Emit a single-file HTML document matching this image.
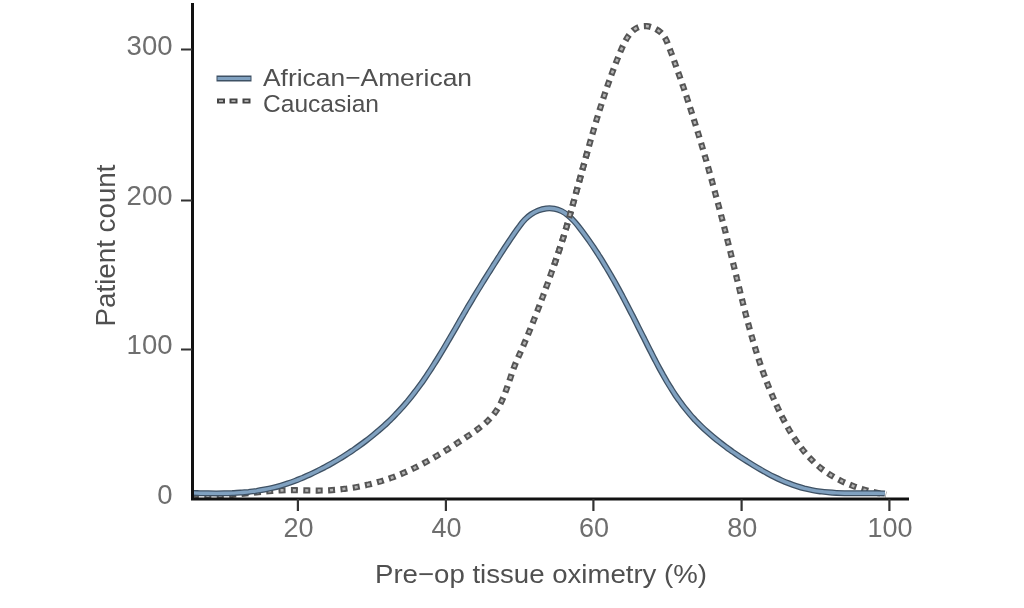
<!DOCTYPE html>
<html><head><meta charset="utf-8"><title>Chart</title>
<style>html,body{margin:0;padding:0;background:#fff;width:1024px;height:608px;overflow:hidden}svg{display:block;will-change:transform}</style>
</head><body>
<svg width="1024" height="608" viewBox="0 0 1024 608">
<rect width="1024" height="608" fill="#ffffff"/>
<defs><clipPath id="cx"><rect x="540" y="150" width="80" height="120"/></clipPath></defs>
<path d="M192.0,494.5 C193.3,494.6 197.4,495.1 200.1,495.3 C202.8,495.5 205.5,495.7 208.1,495.7 C210.8,495.8 213.5,495.8 216.2,495.7 C218.9,495.7 221.6,495.5 224.3,495.4 C226.9,495.2 229.6,495.0 232.3,494.8 C235.0,494.6 237.7,494.3 240.3,494.1 C243.0,493.8 245.7,493.5 248.4,493.2 C251.1,493.0 253.7,492.7 256.4,492.4 C259.1,492.1 261.8,491.8 264.4,491.6 C267.1,491.3 269.8,491.1 272.5,490.9 C275.2,490.7 277.8,490.5 280.5,490.4 C283.2,490.3 285.9,490.2 288.5,490.2 C291.2,490.2 293.9,490.2 296.6,490.2 C299.3,490.3 301.9,490.3 304.6,490.4 C307.3,490.4 310.0,490.5 312.7,490.5 C315.3,490.5 318.0,490.6 320.7,490.5 C323.4,490.5 326.1,490.4 328.8,490.3 C331.4,490.1 334.1,489.9 336.8,489.7 C339.5,489.5 342.1,489.2 344.8,488.8 C347.5,488.5 350.1,488.1 352.8,487.7 C355.4,487.3 358.1,486.8 360.7,486.3 C363.3,485.7 366.0,485.2 368.6,484.6 C371.2,483.9 373.8,483.3 376.4,482.5 C379.0,481.8 381.5,481.1 384.1,480.2 C386.6,479.4 389.2,478.6 391.7,477.7 C394.2,476.8 396.7,475.8 399.2,474.8 C401.7,473.8 404.1,472.8 406.6,471.7 C409.0,470.6 411.4,469.4 413.8,468.3 C416.2,467.1 418.6,465.9 421.0,464.7 C423.4,463.4 425.7,462.2 428.1,460.9 C430.4,459.6 432.8,458.2 435.1,456.9 C437.4,455.5 439.7,454.2 442.0,452.8 C444.3,451.4 446.6,449.9 448.9,448.5 C451.1,447.1 453.4,445.6 455.7,444.1 C457.9,442.7 460.2,441.2 462.4,439.7 C464.7,438.2 466.9,436.7 469.1,435.2 C471.4,433.7 473.6,432.1 475.8,430.6 C477.9,429.0 480.1,427.4 482.1,425.7 C484.2,424.1 486.2,422.4 488.0,420.6 C489.9,418.7 491.7,416.8 493.3,414.8 C494.9,412.8 496.4,410.7 497.8,408.5 C499.2,406.2 500.4,403.9 501.5,401.5 C502.7,399.1 503.7,396.6 504.7,394.0 C505.7,391.5 506.6,388.9 507.5,386.3 C508.4,383.7 509.3,381.0 510.2,378.4 C511.1,375.8 511.9,373.2 512.8,370.6 C513.8,368.0 514.7,365.5 515.7,363.0 C516.8,360.5 517.9,358.1 518.9,355.7 C520.0,353.2 521.1,350.8 522.2,348.4 C523.2,345.9 524.3,343.5 525.3,341.0 C526.4,338.6 527.4,336.1 528.4,333.6 C529.4,331.2 530.4,328.7 531.4,326.2 C532.4,323.7 533.4,321.2 534.4,318.7 C535.4,316.2 536.3,313.7 537.3,311.2 C538.3,308.7 539.2,306.2 540.2,303.7 C541.1,301.2 542.0,298.6 543.0,296.1 C543.9,293.6 544.8,291.1 545.7,288.5 C546.7,286.0 547.6,283.5 548.5,280.9 C549.4,278.4 550.3,275.9 551.2,273.3 C552.1,270.8 553.0,268.2 553.9,265.7 C554.8,263.2 555.7,260.6 556.5,258.1 C557.4,255.6 558.2,253.0 559.1,250.5 C559.9,247.9 560.7,245.4 561.6,242.9 C562.4,240.3 563.2,237.8 564.0,235.3 C564.7,232.7 565.5,230.2 566.3,227.7 C567.0,225.2 567.7,222.6 568.5,220.1 C569.2,217.6 569.9,215.0 570.6,212.5 C571.4,209.9 572.1,207.4 572.8,204.8 C573.5,202.3 574.2,199.7 574.9,197.1 C575.6,194.6 576.3,192.0 577.0,189.4 C577.7,186.8 578.4,184.2 579.2,181.6 C579.9,179.0 580.6,176.4 581.3,173.8 C582.0,171.1 582.7,168.5 583.5,165.9 C584.2,163.3 584.9,160.7 585.6,158.1 C586.4,155.4 587.1,152.8 587.8,150.2 C588.6,147.6 589.3,145.0 590.0,142.4 C590.8,139.8 591.5,137.3 592.2,134.7 C593.0,132.1 593.7,129.6 594.5,127.0 C595.2,124.5 596.0,121.9 596.7,119.4 C597.5,116.9 598.3,114.4 599.0,111.9 C599.8,109.4 600.6,106.9 601.4,104.4 C602.1,101.9 602.9,99.4 603.8,96.9 C604.6,94.4 605.4,91.9 606.3,89.4 C607.1,86.9 608.0,84.4 608.9,81.9 C609.8,79.4 610.7,76.8 611.6,74.3 C612.6,71.7 613.5,69.2 614.5,66.6 C615.5,64.0 616.5,61.4 617.6,58.7 C618.6,56.1 619.7,53.4 620.8,50.7 C621.9,48.1 623.1,45.3 624.4,42.9 C625.7,40.4 627.0,37.9 628.5,35.8 C630.0,33.7 631.6,31.7 633.4,30.2 C635.3,28.7 637.2,27.5 639.4,26.8 C641.6,26.1 644.2,25.9 646.6,26.1 C649.1,26.3 651.8,27.1 654.2,28.2 C656.6,29.2 659.0,30.8 660.9,32.6 C662.8,34.4 664.3,36.7 665.7,39.1 C667.0,41.4 667.8,44.1 668.9,46.7 C669.9,49.3 670.8,51.9 671.8,54.4 C672.7,57.0 673.7,59.6 674.6,62.1 C675.5,64.7 676.4,67.2 677.3,69.8 C678.2,72.3 679.1,74.9 680.0,77.4 C680.9,80.0 681.8,82.5 682.6,85.0 C683.5,87.6 684.4,90.1 685.2,92.7 C686.1,95.2 686.9,97.7 687.7,100.3 C688.6,102.8 689.4,105.3 690.2,107.9 C691.0,110.4 691.8,112.9 692.6,115.5 C693.4,118.0 694.2,120.6 695.0,123.1 C695.8,125.7 696.6,128.2 697.4,130.8 C698.2,133.4 698.9,135.9 699.7,138.5 C700.5,141.1 701.3,143.6 702.0,146.2 C702.8,148.8 703.5,151.3 704.3,153.9 C705.0,156.5 705.8,159.1 706.5,161.6 C707.2,164.2 708.0,166.8 708.7,169.4 C709.4,172.0 710.2,174.6 710.9,177.2 C711.6,179.7 712.3,182.3 713.0,184.9 C713.7,187.5 714.4,190.1 715.1,192.7 C715.8,195.3 716.5,197.9 717.2,200.5 C717.9,203.1 718.6,205.7 719.3,208.3 C720.0,210.9 720.7,213.5 721.3,216.1 C722.0,218.7 722.7,221.3 723.4,223.9 C724.0,226.6 724.7,229.2 725.4,231.8 C726.0,234.4 726.7,237.0 727.3,239.6 C728.0,242.2 728.6,244.8 729.3,247.4 C729.9,250.0 730.6,252.6 731.2,255.2 C731.9,257.9 732.5,260.5 733.1,263.1 C733.8,265.7 734.4,268.3 735.0,270.9 C735.7,273.5 736.3,276.1 736.9,278.7 C737.6,281.3 738.2,283.9 738.8,286.5 C739.5,289.1 740.1,291.7 740.7,294.3 C741.4,296.9 742.0,299.5 742.7,302.1 C743.3,304.7 744.0,307.3 744.6,309.9 C745.3,312.5 745.9,315.1 746.6,317.7 C747.3,320.3 748.0,322.9 748.7,325.4 C749.4,328.0 750.1,330.6 750.8,333.2 C751.5,335.7 752.3,338.3 753.0,340.9 C753.8,343.4 754.5,346.0 755.3,348.5 C756.1,351.1 756.9,353.6 757.7,356.2 C758.5,358.7 759.4,361.3 760.2,363.8 C761.1,366.4 762.0,368.9 762.8,371.4 C763.7,373.9 764.7,376.4 765.6,379.0 C766.5,381.5 767.5,384.0 768.5,386.5 C769.5,389.0 770.5,391.5 771.6,394.0 C772.6,396.4 773.7,398.9 774.8,401.4 C775.9,403.9 777.0,406.3 778.2,408.8 C779.3,411.2 780.5,413.7 781.7,416.1 C783.0,418.6 784.2,421.0 785.5,423.4 C786.8,425.8 788.2,428.1 789.5,430.5 C790.9,432.8 792.3,435.1 793.8,437.4 C795.3,439.7 796.8,441.9 798.4,444.1 C799.9,446.2 801.6,448.4 803.2,450.4 C804.9,452.5 806.6,454.5 808.4,456.5 C810.2,458.4 812.1,460.3 814.0,462.2 C815.9,464.0 817.8,465.7 819.9,467.4 C821.9,469.1 824.0,470.6 826.2,472.1 C828.4,473.7 830.6,475.1 832.9,476.4 C835.2,477.8 837.5,479.0 839.9,480.2 C842.3,481.4 844.7,482.6 847.2,483.6 C849.7,484.7 852.2,485.7 854.7,486.6 C857.3,487.5 859.9,488.3 862.4,489.1 C865.0,489.9 867.6,490.6 870.3,491.3 C872.9,492.0 875.5,492.6 878.2,493.1 C880.8,493.7 884.8,494.4 886.1,494.6" fill="none" stroke="#555555" stroke-width="6.2" stroke-dasharray="7 5.4"/><path d="M192.0,494.5 C193.3,494.6 197.4,495.1 200.1,495.3 C202.8,495.5 205.5,495.7 208.1,495.7 C210.8,495.8 213.5,495.8 216.2,495.7 C218.9,495.7 221.6,495.5 224.3,495.4 C226.9,495.2 229.6,495.0 232.3,494.8 C235.0,494.6 237.7,494.3 240.3,494.1 C243.0,493.8 245.7,493.5 248.4,493.2 C251.1,493.0 253.7,492.7 256.4,492.4 C259.1,492.1 261.8,491.8 264.4,491.6 C267.1,491.3 269.8,491.1 272.5,490.9 C275.2,490.7 277.8,490.5 280.5,490.4 C283.2,490.3 285.9,490.2 288.5,490.2 C291.2,490.2 293.9,490.2 296.6,490.2 C299.3,490.3 301.9,490.3 304.6,490.4 C307.3,490.4 310.0,490.5 312.7,490.5 C315.3,490.5 318.0,490.6 320.7,490.5 C323.4,490.5 326.1,490.4 328.8,490.3 C331.4,490.1 334.1,489.9 336.8,489.7 C339.5,489.5 342.1,489.2 344.8,488.8 C347.5,488.5 350.1,488.1 352.8,487.7 C355.4,487.3 358.1,486.8 360.7,486.3 C363.3,485.7 366.0,485.2 368.6,484.6 C371.2,483.9 373.8,483.3 376.4,482.5 C379.0,481.8 381.5,481.1 384.1,480.2 C386.6,479.4 389.2,478.6 391.7,477.7 C394.2,476.8 396.7,475.8 399.2,474.8 C401.7,473.8 404.1,472.8 406.6,471.7 C409.0,470.6 411.4,469.4 413.8,468.3 C416.2,467.1 418.6,465.9 421.0,464.7 C423.4,463.4 425.7,462.2 428.1,460.9 C430.4,459.6 432.8,458.2 435.1,456.9 C437.4,455.5 439.7,454.2 442.0,452.8 C444.3,451.4 446.6,449.9 448.9,448.5 C451.1,447.1 453.4,445.6 455.7,444.1 C457.9,442.7 460.2,441.2 462.4,439.7 C464.7,438.2 466.9,436.7 469.1,435.2 C471.4,433.7 473.6,432.1 475.8,430.6 C477.9,429.0 480.1,427.4 482.1,425.7 C484.2,424.1 486.2,422.4 488.0,420.6 C489.9,418.7 491.7,416.8 493.3,414.8 C494.9,412.8 496.4,410.7 497.8,408.5 C499.2,406.2 500.4,403.9 501.5,401.5 C502.7,399.1 503.7,396.6 504.7,394.0 C505.7,391.5 506.6,388.9 507.5,386.3 C508.4,383.7 509.3,381.0 510.2,378.4 C511.1,375.8 511.9,373.2 512.8,370.6 C513.8,368.0 514.7,365.5 515.7,363.0 C516.8,360.5 517.9,358.1 518.9,355.7 C520.0,353.2 521.1,350.8 522.2,348.4 C523.2,345.9 524.3,343.5 525.3,341.0 C526.4,338.6 527.4,336.1 528.4,333.6 C529.4,331.2 530.4,328.7 531.4,326.2 C532.4,323.7 533.4,321.2 534.4,318.7 C535.4,316.2 536.3,313.7 537.3,311.2 C538.3,308.7 539.2,306.2 540.2,303.7 C541.1,301.2 542.0,298.6 543.0,296.1 C543.9,293.6 544.8,291.1 545.7,288.5 C546.7,286.0 547.6,283.5 548.5,280.9 C549.4,278.4 550.3,275.9 551.2,273.3 C552.1,270.8 553.0,268.2 553.9,265.7 C554.8,263.2 555.7,260.6 556.5,258.1 C557.4,255.6 558.2,253.0 559.1,250.5 C559.9,247.9 560.7,245.4 561.6,242.9 C562.4,240.3 563.2,237.8 564.0,235.3 C564.7,232.7 565.5,230.2 566.3,227.7 C567.0,225.2 567.7,222.6 568.5,220.1 C569.2,217.6 569.9,215.0 570.6,212.5 C571.4,209.9 572.1,207.4 572.8,204.8 C573.5,202.3 574.2,199.7 574.9,197.1 C575.6,194.6 576.3,192.0 577.0,189.4 C577.7,186.8 578.4,184.2 579.2,181.6 C579.9,179.0 580.6,176.4 581.3,173.8 C582.0,171.1 582.7,168.5 583.5,165.9 C584.2,163.3 584.9,160.7 585.6,158.1 C586.4,155.4 587.1,152.8 587.8,150.2 C588.6,147.6 589.3,145.0 590.0,142.4 C590.8,139.8 591.5,137.3 592.2,134.7 C593.0,132.1 593.7,129.6 594.5,127.0 C595.2,124.5 596.0,121.9 596.7,119.4 C597.5,116.9 598.3,114.4 599.0,111.9 C599.8,109.4 600.6,106.9 601.4,104.4 C602.1,101.9 602.9,99.4 603.8,96.9 C604.6,94.4 605.4,91.9 606.3,89.4 C607.1,86.9 608.0,84.4 608.9,81.9 C609.8,79.4 610.7,76.8 611.6,74.3 C612.6,71.7 613.5,69.2 614.5,66.6 C615.5,64.0 616.5,61.4 617.6,58.7 C618.6,56.1 619.7,53.4 620.8,50.7 C621.9,48.1 623.1,45.3 624.4,42.9 C625.7,40.4 627.0,37.9 628.5,35.8 C630.0,33.7 631.6,31.7 633.4,30.2 C635.3,28.7 637.2,27.5 639.4,26.8 C641.6,26.1 644.2,25.9 646.6,26.1 C649.1,26.3 651.8,27.1 654.2,28.2 C656.6,29.2 659.0,30.8 660.9,32.6 C662.8,34.4 664.3,36.7 665.7,39.1 C667.0,41.4 667.8,44.1 668.9,46.7 C669.9,49.3 670.8,51.9 671.8,54.4 C672.7,57.0 673.7,59.6 674.6,62.1 C675.5,64.7 676.4,67.2 677.3,69.8 C678.2,72.3 679.1,74.9 680.0,77.4 C680.9,80.0 681.8,82.5 682.6,85.0 C683.5,87.6 684.4,90.1 685.2,92.7 C686.1,95.2 686.9,97.7 687.7,100.3 C688.6,102.8 689.4,105.3 690.2,107.9 C691.0,110.4 691.8,112.9 692.6,115.5 C693.4,118.0 694.2,120.6 695.0,123.1 C695.8,125.7 696.6,128.2 697.4,130.8 C698.2,133.4 698.9,135.9 699.7,138.5 C700.5,141.1 701.3,143.6 702.0,146.2 C702.8,148.8 703.5,151.3 704.3,153.9 C705.0,156.5 705.8,159.1 706.5,161.6 C707.2,164.2 708.0,166.8 708.7,169.4 C709.4,172.0 710.2,174.6 710.9,177.2 C711.6,179.7 712.3,182.3 713.0,184.9 C713.7,187.5 714.4,190.1 715.1,192.7 C715.8,195.3 716.5,197.9 717.2,200.5 C717.9,203.1 718.6,205.7 719.3,208.3 C720.0,210.9 720.7,213.5 721.3,216.1 C722.0,218.7 722.7,221.3 723.4,223.9 C724.0,226.6 724.7,229.2 725.4,231.8 C726.0,234.4 726.7,237.0 727.3,239.6 C728.0,242.2 728.6,244.8 729.3,247.4 C729.9,250.0 730.6,252.6 731.2,255.2 C731.9,257.9 732.5,260.5 733.1,263.1 C733.8,265.7 734.4,268.3 735.0,270.9 C735.7,273.5 736.3,276.1 736.9,278.7 C737.6,281.3 738.2,283.9 738.8,286.5 C739.5,289.1 740.1,291.7 740.7,294.3 C741.4,296.9 742.0,299.5 742.7,302.1 C743.3,304.7 744.0,307.3 744.6,309.9 C745.3,312.5 745.9,315.1 746.6,317.7 C747.3,320.3 748.0,322.9 748.7,325.4 C749.4,328.0 750.1,330.6 750.8,333.2 C751.5,335.7 752.3,338.3 753.0,340.9 C753.8,343.4 754.5,346.0 755.3,348.5 C756.1,351.1 756.9,353.6 757.7,356.2 C758.5,358.7 759.4,361.3 760.2,363.8 C761.1,366.4 762.0,368.9 762.8,371.4 C763.7,373.9 764.7,376.4 765.6,379.0 C766.5,381.5 767.5,384.0 768.5,386.5 C769.5,389.0 770.5,391.5 771.6,394.0 C772.6,396.4 773.7,398.9 774.8,401.4 C775.9,403.9 777.0,406.3 778.2,408.8 C779.3,411.2 780.5,413.7 781.7,416.1 C783.0,418.6 784.2,421.0 785.5,423.4 C786.8,425.8 788.2,428.1 789.5,430.5 C790.9,432.8 792.3,435.1 793.8,437.4 C795.3,439.7 796.8,441.9 798.4,444.1 C799.9,446.2 801.6,448.4 803.2,450.4 C804.9,452.5 806.6,454.5 808.4,456.5 C810.2,458.4 812.1,460.3 814.0,462.2 C815.9,464.0 817.8,465.7 819.9,467.4 C821.9,469.1 824.0,470.6 826.2,472.1 C828.4,473.7 830.6,475.1 832.9,476.4 C835.2,477.8 837.5,479.0 839.9,480.2 C842.3,481.4 844.7,482.6 847.2,483.6 C849.7,484.7 852.2,485.7 854.7,486.6 C857.3,487.5 859.9,488.3 862.4,489.1 C865.0,489.9 867.6,490.6 870.3,491.3 C872.9,492.0 875.5,492.6 878.2,493.1 C880.8,493.7 884.8,494.4 886.1,494.6" fill="none" stroke="#b4b4b4" stroke-width="2.6" stroke-dasharray="3 9.4" stroke-dashoffset="-2"/>
<path d="M192.0,492.9 C193.3,493.0 197.3,493.1 200.0,493.2 C202.7,493.2 205.4,493.3 208.1,493.3 C210.8,493.4 213.5,493.4 216.2,493.4 C218.9,493.4 221.6,493.4 224.3,493.3 C227.0,493.3 229.7,493.2 232.4,493.1 C235.1,492.9 237.8,492.8 240.5,492.6 C243.2,492.4 245.9,492.1 248.6,491.9 C251.3,491.6 253.9,491.2 256.6,490.9 C259.3,490.5 261.9,490.0 264.5,489.5 C267.2,489.0 269.8,488.5 272.4,487.9 C275.0,487.3 277.6,486.6 280.1,485.8 C282.7,485.1 285.3,484.3 287.8,483.4 C290.3,482.6 292.8,481.7 295.4,480.7 C297.9,479.8 300.3,478.7 302.8,477.7 C305.3,476.6 307.7,475.5 310.2,474.4 C312.6,473.3 315.1,472.1 317.5,470.9 C319.9,469.7 322.3,468.4 324.7,467.2 C327.1,465.9 329.5,464.6 331.8,463.3 C334.2,461.9 336.5,460.6 338.8,459.2 C341.2,457.8 343.5,456.4 345.7,454.9 C348.0,453.4 350.3,452.0 352.5,450.5 C354.8,448.9 357.0,447.4 359.2,445.8 C361.4,444.2 363.6,442.6 365.7,441.0 C367.9,439.4 370.0,437.7 372.1,436.0 C374.2,434.3 376.3,432.6 378.3,430.8 C380.4,429.1 382.4,427.3 384.4,425.5 C386.4,423.7 388.3,421.8 390.3,420.0 C392.2,418.1 394.1,416.2 395.9,414.2 C397.8,412.3 399.6,410.3 401.4,408.3 C403.2,406.4 404.9,404.3 406.7,402.3 C408.4,400.2 410.1,398.2 411.7,396.1 C413.4,394.0 415.0,391.8 416.6,389.7 C418.2,387.5 419.8,385.4 421.4,383.2 C422.9,381.0 424.5,378.8 426.0,376.6 C427.5,374.3 429.0,372.1 430.5,369.8 C431.9,367.6 433.4,365.3 434.8,363.0 C436.3,360.7 437.7,358.4 439.1,356.1 C440.5,353.8 441.9,351.5 443.3,349.2 C444.7,346.9 446.1,344.5 447.4,342.2 C448.8,339.9 450.2,337.5 451.5,335.2 C452.9,332.9 454.2,330.5 455.6,328.2 C456.9,325.8 458.3,323.5 459.6,321.1 C461.0,318.8 462.3,316.5 463.7,314.1 C465.0,311.8 466.4,309.5 467.7,307.1 C469.1,304.8 470.5,302.5 471.9,300.2 C473.2,297.9 474.6,295.6 476.0,293.3 C477.4,291.0 478.8,288.7 480.2,286.5 C481.6,284.2 483.0,281.9 484.4,279.6 C485.8,277.4 487.3,275.1 488.7,272.8 C490.1,270.6 491.6,268.3 493.0,266.0 C494.4,263.8 495.9,261.5 497.3,259.2 C498.8,257.0 500.2,254.7 501.7,252.4 C503.2,250.2 504.6,247.9 506.1,245.6 C507.6,243.4 509.1,241.1 510.6,238.9 C512.1,236.6 513.6,234.4 515.1,232.2 C516.7,230.0 518.2,227.8 519.8,225.7 C521.4,223.5 523.1,221.4 524.9,219.5 C526.8,217.6 528.9,215.8 531.1,214.3 C533.3,212.8 535.8,211.5 538.3,210.5 C540.8,209.6 543.6,208.9 546.3,208.5 C549.0,208.2 551.8,208.3 554.4,208.7 C556.9,209.1 559.3,210.0 561.6,211.1 C563.9,212.2 566.0,213.7 568.0,215.3 C570.0,216.9 571.9,218.8 573.7,220.8 C575.6,222.8 577.3,225.0 579.0,227.1 C580.7,229.3 582.4,231.5 584.0,233.7 C585.7,236.0 587.3,238.2 588.8,240.4 C590.4,242.7 592.0,244.9 593.5,247.2 C595.0,249.5 596.5,251.7 598.0,254.0 C599.4,256.3 600.9,258.6 602.3,260.9 C603.7,263.2 605.1,265.5 606.5,267.8 C607.9,270.1 609.2,272.4 610.6,274.7 C611.9,277.1 613.3,279.4 614.6,281.7 C615.9,284.1 617.2,286.4 618.5,288.8 C619.7,291.1 621.0,293.5 622.3,295.8 C623.5,298.2 624.8,300.6 626.0,303.0 C627.3,305.3 628.5,307.7 629.7,310.1 C630.9,312.5 632.2,314.9 633.4,317.2 C634.6,319.6 635.8,322.0 637.0,324.4 C638.2,326.8 639.4,329.2 640.6,331.6 C641.8,334.0 643.0,336.4 644.3,338.8 C645.5,341.2 646.7,343.6 647.9,346.1 C649.1,348.5 650.3,350.9 651.6,353.3 C652.8,355.7 654.0,358.1 655.3,360.5 C656.5,362.9 657.8,365.3 659.1,367.7 C660.4,370.0 661.7,372.4 663.0,374.8 C664.3,377.1 665.7,379.5 667.0,381.8 C668.4,384.1 669.8,386.4 671.3,388.7 C672.7,391.0 674.1,393.2 675.6,395.5 C677.1,397.7 678.7,399.9 680.3,402.0 C681.8,404.2 683.4,406.4 685.1,408.4 C686.8,410.5 688.5,412.6 690.2,414.6 C692.0,416.7 693.8,418.6 695.6,420.6 C697.5,422.5 699.4,424.4 701.3,426.3 C703.2,428.2 705.2,430.0 707.2,431.8 C709.2,433.6 711.3,435.4 713.4,437.1 C715.4,438.8 717.5,440.5 719.7,442.2 C721.8,443.9 724.0,445.5 726.2,447.1 C728.3,448.8 730.6,450.3 732.8,451.9 C735.0,453.4 737.3,455.0 739.5,456.5 C741.8,458.0 744.1,459.5 746.4,460.9 C748.7,462.4 751.0,463.8 753.3,465.2 C755.6,466.6 757.9,468.0 760.2,469.3 C762.6,470.7 764.9,472.0 767.3,473.3 C769.7,474.6 772.0,475.8 774.4,477.0 C776.8,478.2 779.2,479.3 781.7,480.4 C784.1,481.5 786.6,482.5 789.0,483.4 C791.5,484.4 794.0,485.3 796.6,486.1 C799.1,486.9 801.6,487.7 804.2,488.4 C806.8,489.0 809.4,489.6 812.0,490.1 C814.7,490.7 817.4,491.1 820.0,491.4 C822.7,491.8 825.4,492.1 828.2,492.3 C830.9,492.6 833.6,492.8 836.4,492.9 C839.1,493.0 841.8,493.1 844.6,493.2 C847.3,493.3 850.1,493.3 852.8,493.3 C855.6,493.3 858.3,493.3 861.0,493.3 C863.7,493.3 866.4,493.3 869.1,493.3 C871.8,493.3 874.5,493.3 877.1,493.3 C879.7,493.3 883.6,493.3 884.9,493.4" fill="none" stroke="#3e5164" stroke-width="6" stroke-linejoin="round"/>
<path d="M192.0,492.9 C193.3,493.0 197.3,493.1 200.0,493.2 C202.7,493.2 205.4,493.3 208.1,493.3 C210.8,493.4 213.5,493.4 216.2,493.4 C218.9,493.4 221.6,493.4 224.3,493.3 C227.0,493.3 229.7,493.2 232.4,493.1 C235.1,492.9 237.8,492.8 240.5,492.6 C243.2,492.4 245.9,492.1 248.6,491.9 C251.3,491.6 253.9,491.2 256.6,490.9 C259.3,490.5 261.9,490.0 264.5,489.5 C267.2,489.0 269.8,488.5 272.4,487.9 C275.0,487.3 277.6,486.6 280.1,485.8 C282.7,485.1 285.3,484.3 287.8,483.4 C290.3,482.6 292.8,481.7 295.4,480.7 C297.9,479.8 300.3,478.7 302.8,477.7 C305.3,476.6 307.7,475.5 310.2,474.4 C312.6,473.3 315.1,472.1 317.5,470.9 C319.9,469.7 322.3,468.4 324.7,467.2 C327.1,465.9 329.5,464.6 331.8,463.3 C334.2,461.9 336.5,460.6 338.8,459.2 C341.2,457.8 343.5,456.4 345.7,454.9 C348.0,453.4 350.3,452.0 352.5,450.5 C354.8,448.9 357.0,447.4 359.2,445.8 C361.4,444.2 363.6,442.6 365.7,441.0 C367.9,439.4 370.0,437.7 372.1,436.0 C374.2,434.3 376.3,432.6 378.3,430.8 C380.4,429.1 382.4,427.3 384.4,425.5 C386.4,423.7 388.3,421.8 390.3,420.0 C392.2,418.1 394.1,416.2 395.9,414.2 C397.8,412.3 399.6,410.3 401.4,408.3 C403.2,406.4 404.9,404.3 406.7,402.3 C408.4,400.2 410.1,398.2 411.7,396.1 C413.4,394.0 415.0,391.8 416.6,389.7 C418.2,387.5 419.8,385.4 421.4,383.2 C422.9,381.0 424.5,378.8 426.0,376.6 C427.5,374.3 429.0,372.1 430.5,369.8 C431.9,367.6 433.4,365.3 434.8,363.0 C436.3,360.7 437.7,358.4 439.1,356.1 C440.5,353.8 441.9,351.5 443.3,349.2 C444.7,346.9 446.1,344.5 447.4,342.2 C448.8,339.9 450.2,337.5 451.5,335.2 C452.9,332.9 454.2,330.5 455.6,328.2 C456.9,325.8 458.3,323.5 459.6,321.1 C461.0,318.8 462.3,316.5 463.7,314.1 C465.0,311.8 466.4,309.5 467.7,307.1 C469.1,304.8 470.5,302.5 471.9,300.2 C473.2,297.9 474.6,295.6 476.0,293.3 C477.4,291.0 478.8,288.7 480.2,286.5 C481.6,284.2 483.0,281.9 484.4,279.6 C485.8,277.4 487.3,275.1 488.7,272.8 C490.1,270.6 491.6,268.3 493.0,266.0 C494.4,263.8 495.9,261.5 497.3,259.2 C498.8,257.0 500.2,254.7 501.7,252.4 C503.2,250.2 504.6,247.9 506.1,245.6 C507.6,243.4 509.1,241.1 510.6,238.9 C512.1,236.6 513.6,234.4 515.1,232.2 C516.7,230.0 518.2,227.8 519.8,225.7 C521.4,223.5 523.1,221.4 524.9,219.5 C526.8,217.6 528.9,215.8 531.1,214.3 C533.3,212.8 535.8,211.5 538.3,210.5 C540.8,209.6 543.6,208.9 546.3,208.5 C549.0,208.2 551.8,208.3 554.4,208.7 C556.9,209.1 559.3,210.0 561.6,211.1 C563.9,212.2 566.0,213.7 568.0,215.3 C570.0,216.9 571.9,218.8 573.7,220.8 C575.6,222.8 577.3,225.0 579.0,227.1 C580.7,229.3 582.4,231.5 584.0,233.7 C585.7,236.0 587.3,238.2 588.8,240.4 C590.4,242.7 592.0,244.9 593.5,247.2 C595.0,249.5 596.5,251.7 598.0,254.0 C599.4,256.3 600.9,258.6 602.3,260.9 C603.7,263.2 605.1,265.5 606.5,267.8 C607.9,270.1 609.2,272.4 610.6,274.7 C611.9,277.1 613.3,279.4 614.6,281.7 C615.9,284.1 617.2,286.4 618.5,288.8 C619.7,291.1 621.0,293.5 622.3,295.8 C623.5,298.2 624.8,300.6 626.0,303.0 C627.3,305.3 628.5,307.7 629.7,310.1 C630.9,312.5 632.2,314.9 633.4,317.2 C634.6,319.6 635.8,322.0 637.0,324.4 C638.2,326.8 639.4,329.2 640.6,331.6 C641.8,334.0 643.0,336.4 644.3,338.8 C645.5,341.2 646.7,343.6 647.9,346.1 C649.1,348.5 650.3,350.9 651.6,353.3 C652.8,355.7 654.0,358.1 655.3,360.5 C656.5,362.9 657.8,365.3 659.1,367.7 C660.4,370.0 661.7,372.4 663.0,374.8 C664.3,377.1 665.7,379.5 667.0,381.8 C668.4,384.1 669.8,386.4 671.3,388.7 C672.7,391.0 674.1,393.2 675.6,395.5 C677.1,397.7 678.7,399.9 680.3,402.0 C681.8,404.2 683.4,406.4 685.1,408.4 C686.8,410.5 688.5,412.6 690.2,414.6 C692.0,416.7 693.8,418.6 695.6,420.6 C697.5,422.5 699.4,424.4 701.3,426.3 C703.2,428.2 705.2,430.0 707.2,431.8 C709.2,433.6 711.3,435.4 713.4,437.1 C715.4,438.8 717.5,440.5 719.7,442.2 C721.8,443.9 724.0,445.5 726.2,447.1 C728.3,448.8 730.6,450.3 732.8,451.9 C735.0,453.4 737.3,455.0 739.5,456.5 C741.8,458.0 744.1,459.5 746.4,460.9 C748.7,462.4 751.0,463.8 753.3,465.2 C755.6,466.6 757.9,468.0 760.2,469.3 C762.6,470.7 764.9,472.0 767.3,473.3 C769.7,474.6 772.0,475.8 774.4,477.0 C776.8,478.2 779.2,479.3 781.7,480.4 C784.1,481.5 786.6,482.5 789.0,483.4 C791.5,484.4 794.0,485.3 796.6,486.1 C799.1,486.9 801.6,487.7 804.2,488.4 C806.8,489.0 809.4,489.6 812.0,490.1 C814.7,490.7 817.4,491.1 820.0,491.4 C822.7,491.8 825.4,492.1 828.2,492.3 C830.9,492.6 833.6,492.8 836.4,492.9 C839.1,493.0 841.8,493.1 844.6,493.2 C847.3,493.3 850.1,493.3 852.8,493.3 C855.6,493.3 858.3,493.3 861.0,493.3 C863.7,493.3 866.4,493.3 869.1,493.3 C871.8,493.3 874.5,493.3 877.1,493.3 C879.7,493.3 883.6,493.3 884.9,493.4" fill="none" stroke="#80a1c0" stroke-width="3.4" stroke-linejoin="round"/>
<g clip-path="url(#cx)"><path d="M192.0,494.5 C193.3,494.6 197.4,495.1 200.1,495.3 C202.8,495.5 205.5,495.7 208.1,495.7 C210.8,495.8 213.5,495.8 216.2,495.7 C218.9,495.7 221.6,495.5 224.3,495.4 C226.9,495.2 229.6,495.0 232.3,494.8 C235.0,494.6 237.7,494.3 240.3,494.1 C243.0,493.8 245.7,493.5 248.4,493.2 C251.1,493.0 253.7,492.7 256.4,492.4 C259.1,492.1 261.8,491.8 264.4,491.6 C267.1,491.3 269.8,491.1 272.5,490.9 C275.2,490.7 277.8,490.5 280.5,490.4 C283.2,490.3 285.9,490.2 288.5,490.2 C291.2,490.2 293.9,490.2 296.6,490.2 C299.3,490.3 301.9,490.3 304.6,490.4 C307.3,490.4 310.0,490.5 312.7,490.5 C315.3,490.5 318.0,490.6 320.7,490.5 C323.4,490.5 326.1,490.4 328.8,490.3 C331.4,490.1 334.1,489.9 336.8,489.7 C339.5,489.5 342.1,489.2 344.8,488.8 C347.5,488.5 350.1,488.1 352.8,487.7 C355.4,487.3 358.1,486.8 360.7,486.3 C363.3,485.7 366.0,485.2 368.6,484.6 C371.2,483.9 373.8,483.3 376.4,482.5 C379.0,481.8 381.5,481.1 384.1,480.2 C386.6,479.4 389.2,478.6 391.7,477.7 C394.2,476.8 396.7,475.8 399.2,474.8 C401.7,473.8 404.1,472.8 406.6,471.7 C409.0,470.6 411.4,469.4 413.8,468.3 C416.2,467.1 418.6,465.9 421.0,464.7 C423.4,463.4 425.7,462.2 428.1,460.9 C430.4,459.6 432.8,458.2 435.1,456.9 C437.4,455.5 439.7,454.2 442.0,452.8 C444.3,451.4 446.6,449.9 448.9,448.5 C451.1,447.1 453.4,445.6 455.7,444.1 C457.9,442.7 460.2,441.2 462.4,439.7 C464.7,438.2 466.9,436.7 469.1,435.2 C471.4,433.7 473.6,432.1 475.8,430.6 C477.9,429.0 480.1,427.4 482.1,425.7 C484.2,424.1 486.2,422.4 488.0,420.6 C489.9,418.7 491.7,416.8 493.3,414.8 C494.9,412.8 496.4,410.7 497.8,408.5 C499.2,406.2 500.4,403.9 501.5,401.5 C502.7,399.1 503.7,396.6 504.7,394.0 C505.7,391.5 506.6,388.9 507.5,386.3 C508.4,383.7 509.3,381.0 510.2,378.4 C511.1,375.8 511.9,373.2 512.8,370.6 C513.8,368.0 514.7,365.5 515.7,363.0 C516.8,360.5 517.9,358.1 518.9,355.7 C520.0,353.2 521.1,350.8 522.2,348.4 C523.2,345.9 524.3,343.5 525.3,341.0 C526.4,338.6 527.4,336.1 528.4,333.6 C529.4,331.2 530.4,328.7 531.4,326.2 C532.4,323.7 533.4,321.2 534.4,318.7 C535.4,316.2 536.3,313.7 537.3,311.2 C538.3,308.7 539.2,306.2 540.2,303.7 C541.1,301.2 542.0,298.6 543.0,296.1 C543.9,293.6 544.8,291.1 545.7,288.5 C546.7,286.0 547.6,283.5 548.5,280.9 C549.4,278.4 550.3,275.9 551.2,273.3 C552.1,270.8 553.0,268.2 553.9,265.7 C554.8,263.2 555.7,260.6 556.5,258.1 C557.4,255.6 558.2,253.0 559.1,250.5 C559.9,247.9 560.7,245.4 561.6,242.9 C562.4,240.3 563.2,237.8 564.0,235.3 C564.7,232.7 565.5,230.2 566.3,227.7 C567.0,225.2 567.7,222.6 568.5,220.1 C569.2,217.6 569.9,215.0 570.6,212.5 C571.4,209.9 572.1,207.4 572.8,204.8 C573.5,202.3 574.2,199.7 574.9,197.1 C575.6,194.6 576.3,192.0 577.0,189.4 C577.7,186.8 578.4,184.2 579.2,181.6 C579.9,179.0 580.6,176.4 581.3,173.8 C582.0,171.1 582.7,168.5 583.5,165.9 C584.2,163.3 584.9,160.7 585.6,158.1 C586.4,155.4 587.1,152.8 587.8,150.2 C588.6,147.6 589.3,145.0 590.0,142.4 C590.8,139.8 591.5,137.3 592.2,134.7 C593.0,132.1 593.7,129.6 594.5,127.0 C595.2,124.5 596.0,121.9 596.7,119.4 C597.5,116.9 598.3,114.4 599.0,111.9 C599.8,109.4 600.6,106.9 601.4,104.4 C602.1,101.9 602.9,99.4 603.8,96.9 C604.6,94.4 605.4,91.9 606.3,89.4 C607.1,86.9 608.0,84.4 608.9,81.9 C609.8,79.4 610.7,76.8 611.6,74.3 C612.6,71.7 613.5,69.2 614.5,66.6 C615.5,64.0 616.5,61.4 617.6,58.7 C618.6,56.1 619.7,53.4 620.8,50.7 C621.9,48.1 623.1,45.3 624.4,42.9 C625.7,40.4 627.0,37.9 628.5,35.8 C630.0,33.7 631.6,31.7 633.4,30.2 C635.3,28.7 637.2,27.5 639.4,26.8 C641.6,26.1 644.2,25.9 646.6,26.1 C649.1,26.3 651.8,27.1 654.2,28.2 C656.6,29.2 659.0,30.8 660.9,32.6 C662.8,34.4 664.3,36.7 665.7,39.1 C667.0,41.4 667.8,44.1 668.9,46.7 C669.9,49.3 670.8,51.9 671.8,54.4 C672.7,57.0 673.7,59.6 674.6,62.1 C675.5,64.7 676.4,67.2 677.3,69.8 C678.2,72.3 679.1,74.9 680.0,77.4 C680.9,80.0 681.8,82.5 682.6,85.0 C683.5,87.6 684.4,90.1 685.2,92.7 C686.1,95.2 686.9,97.7 687.7,100.3 C688.6,102.8 689.4,105.3 690.2,107.9 C691.0,110.4 691.8,112.9 692.6,115.5 C693.4,118.0 694.2,120.6 695.0,123.1 C695.8,125.7 696.6,128.2 697.4,130.8 C698.2,133.4 698.9,135.9 699.7,138.5 C700.5,141.1 701.3,143.6 702.0,146.2 C702.8,148.8 703.5,151.3 704.3,153.9 C705.0,156.5 705.8,159.1 706.5,161.6 C707.2,164.2 708.0,166.8 708.7,169.4 C709.4,172.0 710.2,174.6 710.9,177.2 C711.6,179.7 712.3,182.3 713.0,184.9 C713.7,187.5 714.4,190.1 715.1,192.7 C715.8,195.3 716.5,197.9 717.2,200.5 C717.9,203.1 718.6,205.7 719.3,208.3 C720.0,210.9 720.7,213.5 721.3,216.1 C722.0,218.7 722.7,221.3 723.4,223.9 C724.0,226.6 724.7,229.2 725.4,231.8 C726.0,234.4 726.7,237.0 727.3,239.6 C728.0,242.2 728.6,244.8 729.3,247.4 C729.9,250.0 730.6,252.6 731.2,255.2 C731.9,257.9 732.5,260.5 733.1,263.1 C733.8,265.7 734.4,268.3 735.0,270.9 C735.7,273.5 736.3,276.1 736.9,278.7 C737.6,281.3 738.2,283.9 738.8,286.5 C739.5,289.1 740.1,291.7 740.7,294.3 C741.4,296.9 742.0,299.5 742.7,302.1 C743.3,304.7 744.0,307.3 744.6,309.9 C745.3,312.5 745.9,315.1 746.6,317.7 C747.3,320.3 748.0,322.9 748.7,325.4 C749.4,328.0 750.1,330.6 750.8,333.2 C751.5,335.7 752.3,338.3 753.0,340.9 C753.8,343.4 754.5,346.0 755.3,348.5 C756.1,351.1 756.9,353.6 757.7,356.2 C758.5,358.7 759.4,361.3 760.2,363.8 C761.1,366.4 762.0,368.9 762.8,371.4 C763.7,373.9 764.7,376.4 765.6,379.0 C766.5,381.5 767.5,384.0 768.5,386.5 C769.5,389.0 770.5,391.5 771.6,394.0 C772.6,396.4 773.7,398.9 774.8,401.4 C775.9,403.9 777.0,406.3 778.2,408.8 C779.3,411.2 780.5,413.7 781.7,416.1 C783.0,418.6 784.2,421.0 785.5,423.4 C786.8,425.8 788.2,428.1 789.5,430.5 C790.9,432.8 792.3,435.1 793.8,437.4 C795.3,439.7 796.8,441.9 798.4,444.1 C799.9,446.2 801.6,448.4 803.2,450.4 C804.9,452.5 806.6,454.5 808.4,456.5 C810.2,458.4 812.1,460.3 814.0,462.2 C815.9,464.0 817.8,465.7 819.9,467.4 C821.9,469.1 824.0,470.6 826.2,472.1 C828.4,473.7 830.6,475.1 832.9,476.4 C835.2,477.8 837.5,479.0 839.9,480.2 C842.3,481.4 844.7,482.6 847.2,483.6 C849.7,484.7 852.2,485.7 854.7,486.6 C857.3,487.5 859.9,488.3 862.4,489.1 C865.0,489.9 867.6,490.6 870.3,491.3 C872.9,492.0 875.5,492.6 878.2,493.1 C880.8,493.7 884.8,494.4 886.1,494.6" fill="none" stroke="#555555" stroke-width="6.2" stroke-dasharray="7 5.4"/><path d="M192.0,494.5 C193.3,494.6 197.4,495.1 200.1,495.3 C202.8,495.5 205.5,495.7 208.1,495.7 C210.8,495.8 213.5,495.8 216.2,495.7 C218.9,495.7 221.6,495.5 224.3,495.4 C226.9,495.2 229.6,495.0 232.3,494.8 C235.0,494.6 237.7,494.3 240.3,494.1 C243.0,493.8 245.7,493.5 248.4,493.2 C251.1,493.0 253.7,492.7 256.4,492.4 C259.1,492.1 261.8,491.8 264.4,491.6 C267.1,491.3 269.8,491.1 272.5,490.9 C275.2,490.7 277.8,490.5 280.5,490.4 C283.2,490.3 285.9,490.2 288.5,490.2 C291.2,490.2 293.9,490.2 296.6,490.2 C299.3,490.3 301.9,490.3 304.6,490.4 C307.3,490.4 310.0,490.5 312.7,490.5 C315.3,490.5 318.0,490.6 320.7,490.5 C323.4,490.5 326.1,490.4 328.8,490.3 C331.4,490.1 334.1,489.9 336.8,489.7 C339.5,489.5 342.1,489.2 344.8,488.8 C347.5,488.5 350.1,488.1 352.8,487.7 C355.4,487.3 358.1,486.8 360.7,486.3 C363.3,485.7 366.0,485.2 368.6,484.6 C371.2,483.9 373.8,483.3 376.4,482.5 C379.0,481.8 381.5,481.1 384.1,480.2 C386.6,479.4 389.2,478.6 391.7,477.7 C394.2,476.8 396.7,475.8 399.2,474.8 C401.7,473.8 404.1,472.8 406.6,471.7 C409.0,470.6 411.4,469.4 413.8,468.3 C416.2,467.1 418.6,465.9 421.0,464.7 C423.4,463.4 425.7,462.2 428.1,460.9 C430.4,459.6 432.8,458.2 435.1,456.9 C437.4,455.5 439.7,454.2 442.0,452.8 C444.3,451.4 446.6,449.9 448.9,448.5 C451.1,447.1 453.4,445.6 455.7,444.1 C457.9,442.7 460.2,441.2 462.4,439.7 C464.7,438.2 466.9,436.7 469.1,435.2 C471.4,433.7 473.6,432.1 475.8,430.6 C477.9,429.0 480.1,427.4 482.1,425.7 C484.2,424.1 486.2,422.4 488.0,420.6 C489.9,418.7 491.7,416.8 493.3,414.8 C494.9,412.8 496.4,410.7 497.8,408.5 C499.2,406.2 500.4,403.9 501.5,401.5 C502.7,399.1 503.7,396.6 504.7,394.0 C505.7,391.5 506.6,388.9 507.5,386.3 C508.4,383.7 509.3,381.0 510.2,378.4 C511.1,375.8 511.9,373.2 512.8,370.6 C513.8,368.0 514.7,365.5 515.7,363.0 C516.8,360.5 517.9,358.1 518.9,355.7 C520.0,353.2 521.1,350.8 522.2,348.4 C523.2,345.9 524.3,343.5 525.3,341.0 C526.4,338.6 527.4,336.1 528.4,333.6 C529.4,331.2 530.4,328.7 531.4,326.2 C532.4,323.7 533.4,321.2 534.4,318.7 C535.4,316.2 536.3,313.7 537.3,311.2 C538.3,308.7 539.2,306.2 540.2,303.7 C541.1,301.2 542.0,298.6 543.0,296.1 C543.9,293.6 544.8,291.1 545.7,288.5 C546.7,286.0 547.6,283.5 548.5,280.9 C549.4,278.4 550.3,275.9 551.2,273.3 C552.1,270.8 553.0,268.2 553.9,265.7 C554.8,263.2 555.7,260.6 556.5,258.1 C557.4,255.6 558.2,253.0 559.1,250.5 C559.9,247.9 560.7,245.4 561.6,242.9 C562.4,240.3 563.2,237.8 564.0,235.3 C564.7,232.7 565.5,230.2 566.3,227.7 C567.0,225.2 567.7,222.6 568.5,220.1 C569.2,217.6 569.9,215.0 570.6,212.5 C571.4,209.9 572.1,207.4 572.8,204.8 C573.5,202.3 574.2,199.7 574.9,197.1 C575.6,194.6 576.3,192.0 577.0,189.4 C577.7,186.8 578.4,184.2 579.2,181.6 C579.9,179.0 580.6,176.4 581.3,173.8 C582.0,171.1 582.7,168.5 583.5,165.9 C584.2,163.3 584.9,160.7 585.6,158.1 C586.4,155.4 587.1,152.8 587.8,150.2 C588.6,147.6 589.3,145.0 590.0,142.4 C590.8,139.8 591.5,137.3 592.2,134.7 C593.0,132.1 593.7,129.6 594.5,127.0 C595.2,124.5 596.0,121.9 596.7,119.4 C597.5,116.9 598.3,114.4 599.0,111.9 C599.8,109.4 600.6,106.9 601.4,104.4 C602.1,101.9 602.9,99.4 603.8,96.9 C604.6,94.4 605.4,91.9 606.3,89.4 C607.1,86.9 608.0,84.4 608.9,81.9 C609.8,79.4 610.7,76.8 611.6,74.3 C612.6,71.7 613.5,69.2 614.5,66.6 C615.5,64.0 616.5,61.4 617.6,58.7 C618.6,56.1 619.7,53.4 620.8,50.7 C621.9,48.1 623.1,45.3 624.4,42.9 C625.7,40.4 627.0,37.9 628.5,35.8 C630.0,33.7 631.6,31.7 633.4,30.2 C635.3,28.7 637.2,27.5 639.4,26.8 C641.6,26.1 644.2,25.9 646.6,26.1 C649.1,26.3 651.8,27.1 654.2,28.2 C656.6,29.2 659.0,30.8 660.9,32.6 C662.8,34.4 664.3,36.7 665.7,39.1 C667.0,41.4 667.8,44.1 668.9,46.7 C669.9,49.3 670.8,51.9 671.8,54.4 C672.7,57.0 673.7,59.6 674.6,62.1 C675.5,64.7 676.4,67.2 677.3,69.8 C678.2,72.3 679.1,74.9 680.0,77.4 C680.9,80.0 681.8,82.5 682.6,85.0 C683.5,87.6 684.4,90.1 685.2,92.7 C686.1,95.2 686.9,97.7 687.7,100.3 C688.6,102.8 689.4,105.3 690.2,107.9 C691.0,110.4 691.8,112.9 692.6,115.5 C693.4,118.0 694.2,120.6 695.0,123.1 C695.8,125.7 696.6,128.2 697.4,130.8 C698.2,133.4 698.9,135.9 699.7,138.5 C700.5,141.1 701.3,143.6 702.0,146.2 C702.8,148.8 703.5,151.3 704.3,153.9 C705.0,156.5 705.8,159.1 706.5,161.6 C707.2,164.2 708.0,166.8 708.7,169.4 C709.4,172.0 710.2,174.6 710.9,177.2 C711.6,179.7 712.3,182.3 713.0,184.9 C713.7,187.5 714.4,190.1 715.1,192.7 C715.8,195.3 716.5,197.9 717.2,200.5 C717.9,203.1 718.6,205.7 719.3,208.3 C720.0,210.9 720.7,213.5 721.3,216.1 C722.0,218.7 722.7,221.3 723.4,223.9 C724.0,226.6 724.7,229.2 725.4,231.8 C726.0,234.4 726.7,237.0 727.3,239.6 C728.0,242.2 728.6,244.8 729.3,247.4 C729.9,250.0 730.6,252.6 731.2,255.2 C731.9,257.9 732.5,260.5 733.1,263.1 C733.8,265.7 734.4,268.3 735.0,270.9 C735.7,273.5 736.3,276.1 736.9,278.7 C737.6,281.3 738.2,283.9 738.8,286.5 C739.5,289.1 740.1,291.7 740.7,294.3 C741.4,296.9 742.0,299.5 742.7,302.1 C743.3,304.7 744.0,307.3 744.6,309.9 C745.3,312.5 745.9,315.1 746.6,317.7 C747.3,320.3 748.0,322.9 748.7,325.4 C749.4,328.0 750.1,330.6 750.8,333.2 C751.5,335.7 752.3,338.3 753.0,340.9 C753.8,343.4 754.5,346.0 755.3,348.5 C756.1,351.1 756.9,353.6 757.7,356.2 C758.5,358.7 759.4,361.3 760.2,363.8 C761.1,366.4 762.0,368.9 762.8,371.4 C763.7,373.9 764.7,376.4 765.6,379.0 C766.5,381.5 767.5,384.0 768.5,386.5 C769.5,389.0 770.5,391.5 771.6,394.0 C772.6,396.4 773.7,398.9 774.8,401.4 C775.9,403.9 777.0,406.3 778.2,408.8 C779.3,411.2 780.5,413.7 781.7,416.1 C783.0,418.6 784.2,421.0 785.5,423.4 C786.8,425.8 788.2,428.1 789.5,430.5 C790.9,432.8 792.3,435.1 793.8,437.4 C795.3,439.7 796.8,441.9 798.4,444.1 C799.9,446.2 801.6,448.4 803.2,450.4 C804.9,452.5 806.6,454.5 808.4,456.5 C810.2,458.4 812.1,460.3 814.0,462.2 C815.9,464.0 817.8,465.7 819.9,467.4 C821.9,469.1 824.0,470.6 826.2,472.1 C828.4,473.7 830.6,475.1 832.9,476.4 C835.2,477.8 837.5,479.0 839.9,480.2 C842.3,481.4 844.7,482.6 847.2,483.6 C849.7,484.7 852.2,485.7 854.7,486.6 C857.3,487.5 859.9,488.3 862.4,489.1 C865.0,489.9 867.6,490.6 870.3,491.3 C872.9,492.0 875.5,492.6 878.2,493.1 C880.8,493.7 884.8,494.4 886.1,494.6" fill="none" stroke="#b4b4b4" stroke-width="2.6" stroke-dasharray="3 9.4" stroke-dashoffset="-2"/></g>
<path d="M192.5,3 V499 H909" fill="none" stroke="#111" stroke-width="3"/>
<rect x="181" y="48.5" width="11" height="2" fill="#333"/>
<rect x="181" y="199.5" width="11" height="2" fill="#333"/>
<rect x="181" y="348.5" width="11" height="2" fill="#333"/>
<rect x="296.8" y="499" width="2.2" height="12" fill="#333"/>
<rect x="444.8" y="499" width="2.2" height="12" fill="#333"/>
<rect x="592.3" y="499" width="2.2" height="12" fill="#333"/>
<rect x="740.5" y="499" width="2.2" height="12" fill="#333"/>
<rect x="888.3" y="499" width="2.2" height="12" fill="#333"/>
<text x="172.5" y="55" text-anchor="end" font-family="'Liberation Sans', sans-serif" font-size="27.5" fill="#6e6e6e">300</text>
<text x="172.5" y="204.5" text-anchor="end" font-family="'Liberation Sans', sans-serif" font-size="27.5" fill="#6e6e6e">200</text>
<text x="172.5" y="354" text-anchor="end" font-family="'Liberation Sans', sans-serif" font-size="27.5" fill="#6e6e6e">100</text>
<text x="172.5" y="503.5" text-anchor="end" font-family="'Liberation Sans', sans-serif" font-size="27.5" fill="#6e6e6e">0</text>
<text x="298.5" y="537" text-anchor="middle" font-family="'Liberation Sans', sans-serif" font-size="27" fill="#6e6e6e">20</text>
<text x="446.5" y="537" text-anchor="middle" font-family="'Liberation Sans', sans-serif" font-size="27" fill="#6e6e6e">40</text>
<text x="594.0" y="537" text-anchor="middle" font-family="'Liberation Sans', sans-serif" font-size="27" fill="#6e6e6e">60</text>
<text x="742.2" y="537" text-anchor="middle" font-family="'Liberation Sans', sans-serif" font-size="27" fill="#6e6e6e">80</text>
<text x="890.0" y="537" text-anchor="middle" font-family="'Liberation Sans', sans-serif" font-size="27" fill="#6e6e6e">100</text>
<text x="375" y="582.6" font-family="'Liberation Sans', sans-serif" font-size="26" fill="#505050" textLength="332" lengthAdjust="spacingAndGlyphs">Pre−op tissue oximetry (%)</text>
<text transform="translate(114.6,326.5) rotate(-90)" x="0" y="0" font-family="'Liberation Sans', sans-serif" font-size="27.5" fill="#505050" textLength="162" lengthAdjust="spacingAndGlyphs">Patient count</text>
<line x1="216.5" y1="78.5" x2="251.5" y2="78.5" stroke="#3e5164" stroke-width="6"/>
<line x1="217.5" y1="78.5" x2="250.5" y2="78.5" stroke="#80a1c0" stroke-width="3"/>
<rect x="217" y="98.5" width="8" height="5" fill="#444"/>
<rect x="219" y="100" width="4" height="2" fill="#aaa"/>
<rect x="229.5" y="98.5" width="8" height="5" fill="#444"/>
<rect x="231.5" y="100" width="4" height="2" fill="#aaa"/>
<rect x="242.5" y="98.5" width="8" height="5" fill="#444"/>
<rect x="244.5" y="100" width="4" height="2" fill="#aaa"/>
<text x="263" y="86.4" font-family="'Liberation Sans', sans-serif" font-size="24.5" fill="#505050" textLength="209" lengthAdjust="spacingAndGlyphs">African−American</text>
<text x="263" y="111.6" font-family="'Liberation Sans', sans-serif" font-size="24.5" fill="#505050" textLength="116" lengthAdjust="spacingAndGlyphs">Caucasian</text>
</svg>
</body></html>
